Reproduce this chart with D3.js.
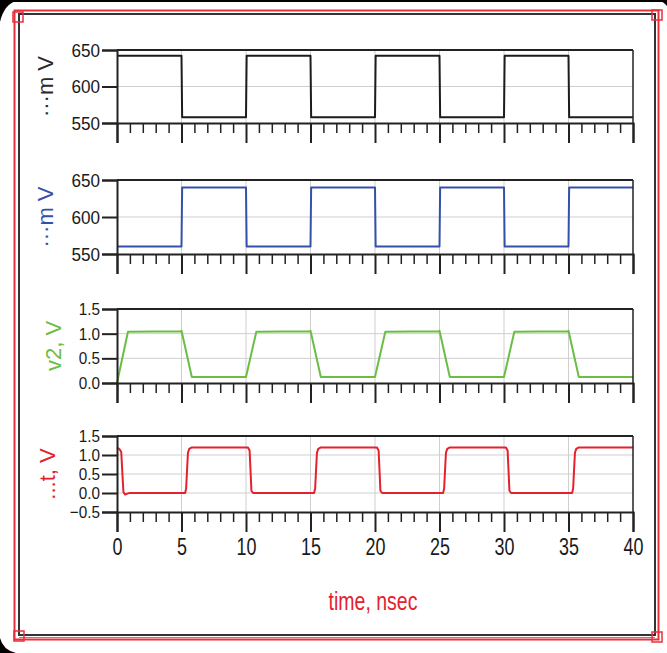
<!DOCTYPE html>
<html>
<head>
<meta charset="utf-8">
<script src="https://cdn.jsdelivr.net/npm/d3@7"></script>
<style>
  html, body { margin: 0; padding: 0; background: #fff; }
  svg { display: block; }
</style>
</head>
<body>
<svg id="chart" width="667" height="653"></svg>
<script>
// ---------------- DATA ----------------
const xMajorTicks = [0, 5, 10, 15, 20, 25, 30, 35, 40];
const xMinorTicks = [1,2,3,4,6,7,8,9,11,12,13,14,16,17,18,19,21,22,23,24,26,27,28,29,31,32,33,34,36,37,38,39];
const xGridLines = [5, 10, 15, 20, 25, 30, 35];

const p1Ticks = [550, 600, 650];
const p2Ticks = [550, 600, 650];
const p3Ticks = [0.0, 0.5, 1.0, 1.5];
const p4Ticks = [-0.5, 0.0, 0.5, 1.0, 1.5];

// series 1 (black, mV)
const sig1 = [[0,642],[5,642],[5.05,558],[10,558],[10.05,642],[15,642],[15.05,558],[20,558],[20.05,642],
  [25,642],[25.05,558],[30,558],[30.05,642],[35,642],[35.05,558],[40,558]];
// series 2 (blue, mV)
const sig2 = [[0,560],[5,560],[5.05,640],[10,640],[10.05,560],[15,560],[15.05,640],[20,640],[20.05,560],
  [25,560],[25.05,640],[30,640],[30.05,560],[35,560],[35.05,640],[40,640]];
// series 3 (green, v2, V)
const sig3 = [[0,0.0],[0.85,1.04],[4.95,1.05],[5.0,1.06],[5.8,0.12],[10,0.12],[10.8,1.04],[14.95,1.05],[15,1.06],
  [15.8,0.12],[20,0.12],[20.8,1.04],[24.95,1.05],[25,1.06],[25.8,0.12],[30,0.12],[30.8,1.04],[34.95,1.05],
  [35,1.06],[35.8,0.12],[40,0.12]];
// series 4 (red, ...t, V)
const sig4 = [[0,1.2],[0.2,1.15],[0.33,1.08],[0.42,0.5],[0.5,0.02],[0.62,-0.04],[0.85,-0.01],[1.0,0.0],
  [5.28,0.0],[5.36,0.12],[5.43,0.6],[5.5,1.06],[5.6,1.16],[5.8,1.2],
  [10.15,1.2],[10.28,1.12],[10.35,0.6],[10.42,0.06],[10.55,0.0],
  [15.28,0.0],[15.36,0.12],[15.43,0.6],[15.5,1.06],[15.6,1.16],[15.8,1.2],
  [20.15,1.2],[20.28,1.12],[20.35,0.6],[20.42,0.06],[20.55,0.0],
  [25.28,0.0],[25.36,0.12],[25.43,0.6],[25.5,1.06],[25.6,1.16],[25.8,1.2],
  [30.15,1.2],[30.28,1.12],[30.35,0.6],[30.42,0.06],[30.55,0.0],
  [35.28,0.0],[35.36,0.12],[35.43,0.6],[35.5,1.06],[35.6,1.16],[35.8,1.2],[40,1.2]];

const titles = ["\u00B7\u00B7\u00B7m V", "\u00B7\u00B7\u00B7m V", "v2, V", "...t, V"];
const xTitle = "time, nsec";

// ---------------- LAYOUT ----------------
const svg = d3.select("#chart");
const X0 = 117, X1 = 633;
const x = d3.scaleLinear().domain([0, 40]).range([X0, X1]);
const FONT = "'Liberation Sans', Arial, sans-serif";

const panels = [
  { top: 50,  bottom: 123, domain: [550, 650], ticks: p1Ticks, grid: [600], data: sig1, color: "#1c1c1c", tcolor: "#2a2a2a", title: titles[0], tx: 53, fmt: d3.format("d") },
  { top: 180, bottom: 254, domain: [550, 650], ticks: p2Ticks, grid: [600], data: sig2, color: "#3451a8", tcolor: "#3451a8", title: titles[1], tx: 53, fmt: d3.format("d") },
  { top: 309, bottom: 383, domain: [0, 1.5],   ticks: p3Ticks, grid: [0.5, 1.0], data: sig3, color: "#6cbd45", tcolor: "#6cbd45", title: titles[2], tx: 61, fmt: d3.format(".1f") },
  { top: 436, bottom: 512, domain: [-0.5, 1.5], ticks: p4Ticks, grid: [0.0, 0.5, 1.0], data: sig4, color: "#e5212e", tcolor: "#e5212e", title: titles[3], tx: 55, fmt: d3.format(".1f") }
];

// background corner artefacts
svg.append("rect").attr("x", 0).attr("y", 0).attr("width", 667).attr("height", 2).attr("fill", "#000");
svg.append("path").attr("d", "M0,0 H18 Q4,4 0,22 Z").attr("fill", "#000");
svg.append("path").attr("d", "M0,653 V638 Q3,650 16,653 Z").attr("fill", "#000");
svg.append("path").attr("d", "M667,0 V6 Q664,2 658,0 Z").attr("fill", "#000");

// outer frames
svg.append("rect").attr("x", 19).attr("y", 14).attr("width", 636).attr("height", 621)
  .attr("fill", "none").attr("stroke", "#333").attr("stroke-width", 2);
svg.append("line").attr("x1", 19).attr("x2", 655).attr("y1", 637.5).attr("y2", 637.5)
  .attr("stroke", "#7a9a6a").attr("stroke-width", 1);
svg.append("rect").attr("x", 14.5).attr("y", 10.5).attr("width", 644).attr("height", 629)
  .attr("fill", "none").attr("stroke", "#e8303c").attr("stroke-width", 2);
[[13,12],[652,10],[14,631],[652,632]].forEach(p => {
  svg.append("rect").attr("x", p[0]).attr("y", p[1]).attr("width", 10).attr("height", 10)
    .attr("fill", "none").attr("stroke", "#e8303c").attr("stroke-width", 1.5);
});

panels.forEach((p, i) => {
  const y = d3.scaleLinear().domain(p.domain).range([p.bottom, p.top]);
  const g = svg.append("g");

  // grid
  g.selectAll(".vg").data(xGridLines).join("line")
    .attr("x1", d => x(d)).attr("x2", d => x(d)).attr("y1", p.top).attr("y2", p.bottom)
    .attr("stroke", "#cfcfcf").attr("stroke-width", 1);
  g.selectAll(".hg").data(p.grid).join("line")
    .attr("x1", X0).attr("x2", X1).attr("y1", d => y(d)).attr("y2", d => y(d))
    .attr("stroke", "#cfcfcf").attr("stroke-width", 1);

  // data
  g.append("path").datum(p.data)
    .attr("d", d3.line().x(d => x(d[0])).y(d => y(d[1])))
    .attr("fill", "none").attr("stroke", p.color).attr("stroke-width", 2)
    .attr("stroke-linejoin", "round");

  // frame top/right
  g.append("line").attr("x1", X0).attr("x2", X1).attr("y1", p.top).attr("y2", p.top)
    .attr("stroke", "#222").attr("stroke-width", 2);
  g.append("line").attr("x1", X1).attr("x2", X1).attr("y1", p.top).attr("y2", p.bottom)
    .attr("stroke", "#222").attr("stroke-width", 1.5);

  // y axis
  const ya = g.append("g").attr("transform", `translate(${X0},0)`)
    .call(d3.axisLeft(y).tickValues(p.ticks).tickSize(15).tickPadding(2).tickFormat(p.fmt));
  ya.select(".domain").attr("stroke", "#222").attr("stroke-width", 2);
  ya.selectAll(".tick line").attr("stroke", "#222").attr("stroke-width", 2);
  ya.selectAll(".tick text").attr("fill", "#1a1a1a")
    .attr("x", 0).attr("transform", `translate(-17,0) scale(0.9,1)`)
    .style("font-family", FONT).style("font-size", i < 2 ? "19px" : "17px");

  // x axis minor + major
  const xm = g.append("g").attr("transform", `translate(0,${p.bottom})`)
    .call(d3.axisBottom(x).tickValues(xMinorTicks).tickSize(10).tickFormat(""));
  xm.select(".domain").remove();
  xm.selectAll(".tick line").attr("stroke", "#222").attr("stroke-width", 1.5);
  const xa = g.append("g").attr("transform", `translate(0,${p.bottom})`)
    .call(d3.axisBottom(x).tickValues(xMajorTicks).tickSize(20).tickPadding(7)
      .tickFormat(i === 3 ? d3.format("d") : ""));
  xa.select(".domain").attr("stroke", "#222").attr("stroke-width", 2);
  xa.selectAll(".tick line").attr("stroke", "#222").attr("stroke-width", 2);
  xa.selectAll(".tick text").attr("fill", "#1a1a1a")
    .attr("transform", "scale(0.78,1)")
    .style("font-family", FONT).style("font-size", "23px");

  // y title
  g.append("text")
    .attr("transform", `translate(${p.tx},${(p.top + p.bottom) / 2}) rotate(-90)`)
    .attr("text-anchor", "middle")
    .attr("fill", p.tcolor)
    .style("font-family", FONT).style("font-size", "22px")
    .text(p.title);
});

svg.append("g").attr("transform", "translate(373,610)")
  .append("text").attr("text-anchor", "middle").attr("transform", "scale(0.78,1)")
  .attr("fill", "#e5212e")
  .style("font-family", FONT).style("font-size", "25px")
  .text(xTitle);
</script>
</body>
</html>
